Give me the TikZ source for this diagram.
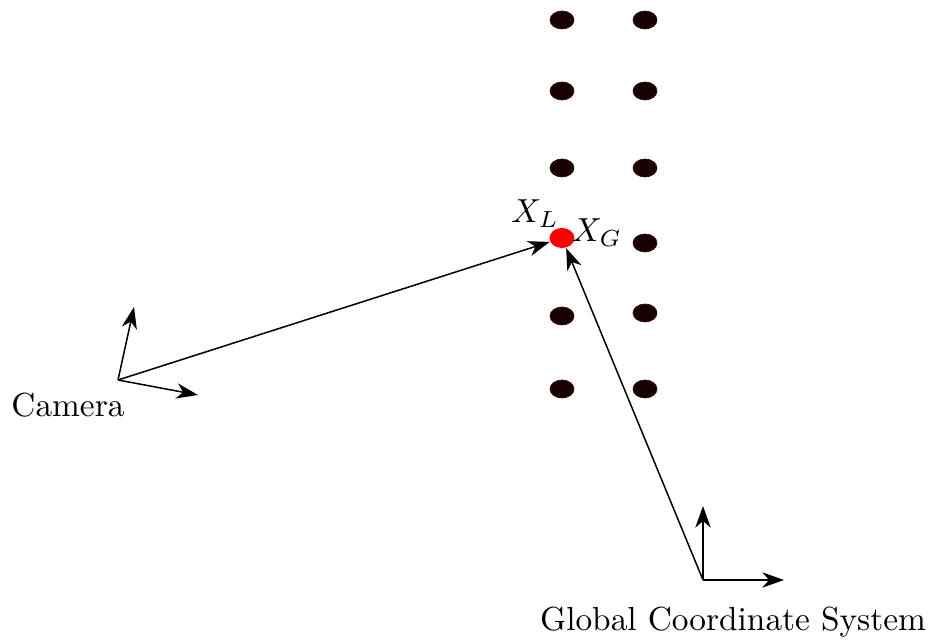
\documentclass[tikz,border=0pt]{standalone}
\usetikzlibrary{arrows.meta,shapes.geometric}
\definecolor{dotcol}{RGB}{22,2,2}
\tikzset{
  dot/.style={ellipse,fill=dotcol,draw=dotcol!80!red,line width=0.2pt,minimum width=24*0.3pt,minimum height=18*0.3pt,inner sep=0pt},
  reddot/.style={ellipse,fill=red,minimum width=25*0.3pt,minimum height=20*0.3pt,inner sep=0pt},
  vec/.style={-{Stealth[length=6.5pt,width=4.6pt,inset=2pt]},line width=0.45pt},
  lbl/.style={inner sep=0pt}
}
\begin{document}
\begin{tikzpicture}[x=0.3pt,y=-0.3pt]
\useasboundingbox (0,0) rectangle (934,643);
% dots
\node[dot] (a1) at (562,20) {};
\node[dot] (a2) at (562,91) {};
\node[dot] (a3) at (562,168) {};
\node[dot] (a5) at (562,316) {};
\node[dot] (a6) at (562,389) {};
\node[dot] (b1) at (645,20) {};
\node[dot] (b2) at (645,91) {};
\node[dot] (b3) at (645,168) {};
\node[dot] (b4) at (645,243) {};
\node[dot] (b5) at (645,313) {};
\node[dot] (b6) at (645,389) {};
\node[reddot] (x) at (562,238) {};
\node[lbl] (xl) at (535,214) {$X_L$};
\node[lbl] (xg) at (597,233) {$X_G$};
% camera
\coordinate (c) at (118,380);
\coordinate (cy) at (134,307);
\coordinate (cx) at (198,395);
\draw[vec] (c) -- (cy);
\draw[vec] (c) -- (cx);
\draw[vec] (c) -- (x);
\node[lbl] (cl) at (68,405) {Camera};
% global
\coordinate (g) at (703,580);
\coordinate (gy) at (703,506);
\coordinate (gx) at (784,580);
\draw[vec] (g) -- (gy);
\draw[vec] (g) -- (gx);
\draw[vec] (g) -- (x);
\node[lbl] (gl) at (733,622) {Global Coordinate System};
\end{tikzpicture}
\end{document}
